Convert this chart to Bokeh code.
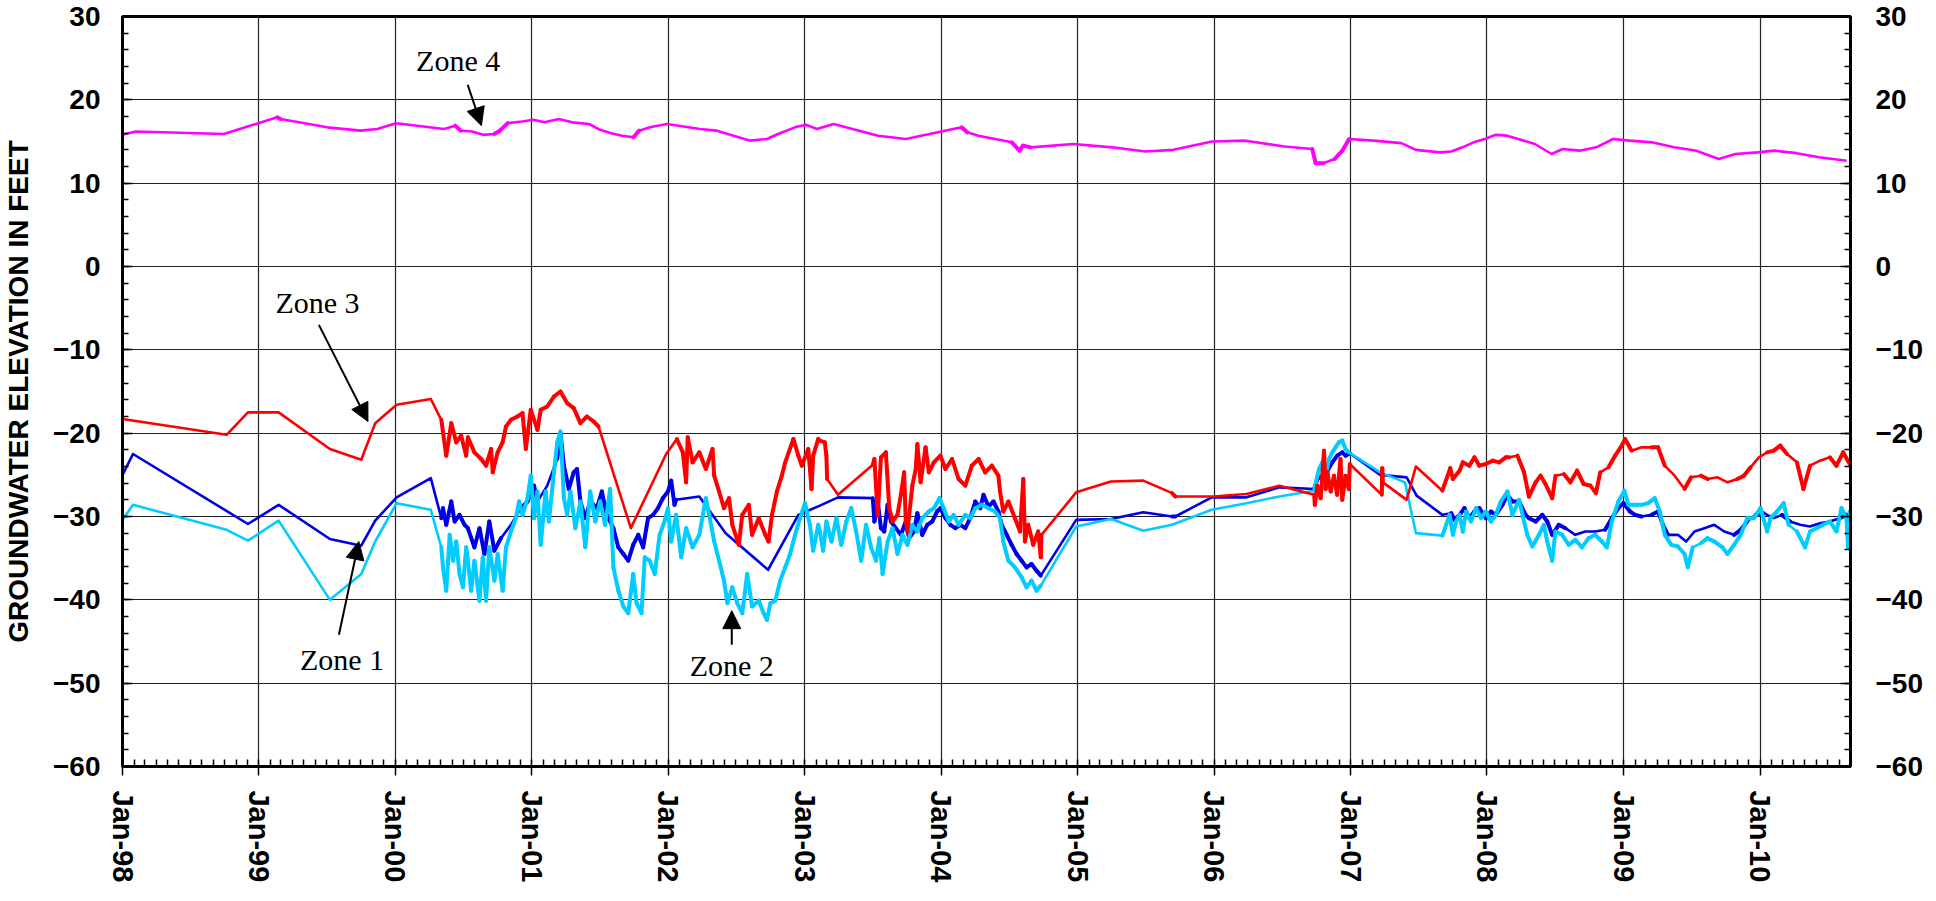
import math
from datetime import datetime
import pandas as pd
from bokeh.plotting import figure
from bokeh.models import (Range1d, FixedTicker, LinearAxis, DatetimeTickFormatter,
                          Label, Arrow, NormalHead)
from bokeh.embed import file_html
from bokeh.resources import INLINE

# ---- data: (decimal year, elevation in feet) ----
ZONE_4 = [(1998.0, 15.8), (1998.098, 16.2), (1998.742, 15.9), (1999.134, 17.9), (1999.158, 17.7),
          (1999.501, 16.7), (1999.745, 16.3), (1999.868, 16.5), (2000.006, 17.2), (2000.357, 16.5),
          (2000.439, 16.9), (2000.480, 16.3), (2000.561, 16.2), (2000.643, 15.8), (2000.724, 15.9),
          (2000.765, 16.3), (2000.822, 17.2), (2000.928, 17.4), (2001.010, 17.6), (2001.091, 17.3),
          (2001.197, 17.7), (2001.295, 17.3), (2001.418, 17.1), (2001.499, 16.4), (2001.581, 16.0),
          (2001.662, 15.7), (2001.744, 15.5), (2001.785, 16.3), (2001.866, 16.7), (2001.989, 17.1),
          (2002.111, 16.8), (2002.233, 16.5), (2002.356, 16.3), (2002.478, 15.7), (2002.600, 15.1),
          (2002.723, 15.3), (2002.804, 15.9), (2002.927, 16.7), (2003.008, 17.0), (2003.090, 16.5),
          (2003.212, 17.1), (2003.538, 15.7), (2003.742, 15.3), (2004.028, 16.3), (2004.150, 16.7),
          (2004.191, 16.1), (2004.273, 15.7), (2004.395, 15.3), (2004.517, 14.9), (2004.574, 13.9),
          (2004.599, 14.5), (2004.656, 14.3), (2004.966, 14.7), (2005.251, 14.3), (2005.496, 13.8),
          (2005.700, 14.0), (2005.985, 15.0), (2006.230, 15.1), (2006.515, 14.4), (2006.719, 14.1),
          (2006.744, 12.4), (2006.801, 12.4), (2006.883, 12.9), (2006.940, 13.9), (2006.989, 15.3),
          (2007.168, 15.1), (2007.372, 14.8), (2007.478, 14.0), (2007.657, 13.7), (2007.739, 13.8),
          (2007.820, 14.3), (2007.902, 14.9), (2007.984, 15.3), (2008.065, 15.8), (2008.147, 15.7),
          (2008.228, 15.3), (2008.350, 14.7), (2008.473, 13.5), (2008.554, 14.1), (2008.677, 13.9),
          (2008.799, 14.3), (2008.922, 15.3), (2009.044, 15.1), (2009.207, 14.9), (2009.370, 14.3),
          (2009.533, 13.9), (2009.696, 12.9), (2009.819, 13.5), (2009.982, 13.7), (2010.104, 13.9),
          (2010.268, 13.6), (2010.431, 13.1), (2010.635, 12.7)]

ZONE_3 = [(1998.0, -18.3), (1998.763, -20.2), (1998.920, -17.5), (1999.145, -17.5), (1999.521, -21.9),
          (1999.751, -23.2), (1999.853, -18.8), (2000.010, -16.6), (2000.260, -15.9), (2000.337, -18.4),
          (2000.373, -22.7), (2000.410, -18.8), (2000.446, -21.1), (2000.482, -20.3), (2000.519, -22.7),
          (2000.531, -20.5), (2000.579, -22.3), (2000.628, -23.1), (2000.664, -23.9), (2000.701, -21.9),
          (2000.713, -24.7), (2000.749, -22.3), (2000.785, -21.1), (2000.810, -19.2), (2000.846, -18.4),
          (2000.894, -18.0), (2000.931, -17.6), (2000.955, -21.9), (2000.991, -17.2), (2001.040, -19.6),
          (2001.064, -17.2), (2001.112, -16.8), (2001.161, -15.6), (2001.209, -15.0), (2001.258, -16.4),
          (2001.306, -17.0), (2001.355, -18.8), (2001.403, -18.0), (2001.452, -18.6), (2001.488, -19.2),
          (2001.725, -31.4), (2001.984, -22.5), (2002.062, -20.7), (2002.106, -22.3), (2002.130, -25.9),
          (2002.142, -20.5), (2002.178, -23.5), (2002.227, -22.3), (2002.275, -24.3), (2002.324, -21.9),
          (2002.336, -25.1), (2002.372, -27.0), (2002.408, -29.0), (2002.445, -27.8), (2002.469, -31.0),
          (2002.517, -33.4), (2002.542, -29.8), (2002.590, -28.6), (2002.614, -32.2), (2002.663, -30.2),
          (2002.711, -32.2), (2002.735, -33.0), (2002.760, -29.8), (2002.796, -27.0), (2002.832, -25.1),
          (2002.857, -23.5), (2002.917, -20.7), (2002.953, -22.7), (2002.978, -23.9), (2003.026, -21.9),
          (2003.050, -26.7), (2003.062, -22.7), (2003.099, -20.7), (2003.111, -20.9), (2003.147, -21.1),
          (2003.159, -22.7), (2003.164, -25.5), (2003.244, -27.4), (2003.499, -23.8), (2003.511, -23.1),
          (2003.535, -29.8), (2003.559, -22.9), (2003.595, -22.3), (2003.620, -29.0), (2003.644, -30.6),
          (2003.680, -29.8), (2003.705, -27.4), (2003.729, -24.7), (2003.741, -30.6), (2003.753, -31.8),
          (2003.789, -26.3), (2003.814, -24.3), (2003.826, -21.3), (2003.850, -25.9), (2003.886, -21.7),
          (2003.910, -24.7), (2003.947, -23.5), (2003.995, -22.7), (2004.032, -24.3), (2004.080, -23.1),
          (2004.128, -25.5), (2004.177, -26.3), (2004.225, -23.9), (2004.274, -23.1), (2004.322, -24.7),
          (2004.371, -23.9), (2004.419, -25.1), (2004.431, -27.0), (2004.455, -29.4), (2004.492, -28.2),
          (2004.540, -30.2), (2004.577, -31.8), (2004.601, -25.5), (2004.613, -33.0), (2004.637, -31.0),
          (2004.674, -33.4), (2004.710, -31.8), (2004.729, -34.9), (2004.734, -32.2), (2004.988, -27.1),
          (2005.243, -25.8), (2005.480, -25.7), (2005.691, -27.2), (2005.715, -27.6), (2005.994, -27.6),
          (2006.236, -27.3), (2006.478, -26.3), (2006.733, -27.4), (2006.738, -28.6), (2006.757, -26.3),
          (2006.781, -27.8), (2006.805, -22.1), (2006.817, -26.7), (2006.830, -24.7), (2006.854, -27.0),
          (2006.878, -25.1), (2006.902, -27.4), (2006.926, -23.1), (2006.939, -28.0), (2006.963, -25.1),
          (2006.987, -26.7), (2006.994, -23.7), (2007.229, -27.4), (2007.232, -24.2), (2007.237, -25.9),
          (2007.411, -28.0), (2007.479, -24.0), (2007.673, -26.9), (2007.731, -24.2), (2007.750, -25.5),
          (2007.799, -24.5), (2007.823, -23.5), (2007.871, -23.9), (2007.908, -22.9), (2007.944, -23.9),
          (2007.992, -23.7), (2008.041, -23.3), (2008.089, -23.5), (2008.138, -22.9), (2008.162, -22.9),
          (2008.223, -22.7), (2008.271, -24.7), (2008.307, -27.6), (2008.356, -25.9), (2008.392, -25.1),
          (2008.428, -26.1), (2008.477, -27.8), (2008.501, -25.1), (2008.562, -24.9), (2008.610, -25.9),
          (2008.659, -24.5), (2008.707, -26.1), (2008.756, -26.3), (2008.797, -27.2), (2008.828, -24.7),
          (2008.889, -24.1), (2008.937, -22.7), (2008.986, -21.5), (2009.010, -20.7), (2009.058, -22.1),
          (2009.131, -21.7), (2009.204, -21.7), (2009.252, -21.7), (2009.301, -23.9), (2009.373, -25.1),
          (2009.446, -26.7), (2009.494, -25.3), (2009.567, -25.1), (2009.615, -25.5), (2009.688, -25.3),
          (2009.761, -25.9), (2009.833, -25.5), (2009.882, -25.1), (2009.930, -24.1), (2009.991, -22.9),
          (2010.052, -22.3), (2010.100, -22.1), (2010.148, -21.5), (2010.197, -22.5), (2010.270, -23.5),
          (2010.318, -26.7), (2010.366, -23.9), (2010.439, -23.3), (2010.512, -22.9), (2010.560, -23.9),
          (2010.609, -22.3), (2010.657, -23.7)]

ZONE_1 = [(1998.0, -25.0), (1998.077, -22.5), (1998.920, -30.9), (1999.145, -28.6), (1999.521, -32.7),
          (1999.751, -33.5), (1999.853, -30.5), (2000.010, -27.7), (2000.260, -25.4), (2000.337, -30.2),
          (2000.349, -29.0), (2000.373, -31.0), (2000.410, -28.2), (2000.434, -30.6), (2000.470, -29.8),
          (2000.507, -31.0), (2000.531, -31.4), (2000.579, -33.7), (2000.616, -31.4), (2000.652, -34.5),
          (2000.688, -30.6), (2000.725, -34.1), (2000.773, -32.6), (2000.846, -31.0), (2000.919, -29.0),
          (2000.967, -28.2), (2001.015, -26.3), (2001.040, -28.2), (2001.112, -26.3), (2001.185, -23.1),
          (2001.209, -20.0), (2001.234, -23.9), (2001.270, -26.7), (2001.306, -24.7), (2001.330, -24.3),
          (2001.355, -28.2), (2001.391, -30.2), (2001.427, -28.2), (2001.476, -29.0), (2001.512, -27.0),
          (2001.548, -29.8), (2001.597, -31.4), (2001.633, -33.7), (2001.670, -34.5), (2001.706, -35.3),
          (2001.742, -33.4), (2001.779, -32.2), (2001.815, -33.7), (2001.851, -30.2), (2001.888, -29.8),
          (2001.924, -29.0), (2001.960, -27.8), (2001.997, -27.0), (2002.021, -25.7), (2002.045, -28.6),
          (2002.057, -28.0), (2002.227, -27.6), (2002.420, -32.0), (2002.731, -36.4), (2002.953, -29.8),
          (2003.111, -28.7), (2003.244, -27.7), (2003.499, -27.8), (2003.511, -30.6), (2003.535, -28.2),
          (2003.559, -31.4), (2003.583, -31.8), (2003.608, -28.6), (2003.632, -30.6), (2003.668, -31.4),
          (2003.705, -32.2), (2003.741, -30.6), (2003.765, -32.6), (2003.801, -31.8), (2003.826, -29.6),
          (2003.862, -32.2), (2003.898, -31.0), (2003.935, -30.6), (2003.971, -29.4), (2003.995, -29.0),
          (2004.032, -30.2), (2004.068, -31.0), (2004.104, -31.4), (2004.141, -31.0), (2004.177, -31.4),
          (2004.213, -30.2), (2004.250, -28.2), (2004.286, -29.0), (2004.310, -27.4), (2004.346, -28.8),
          (2004.383, -28.2), (2004.419, -29.4), (2004.443, -31.0), (2004.480, -32.2), (2004.516, -33.4),
          (2004.552, -34.5), (2004.589, -35.3), (2004.625, -36.1), (2004.661, -35.7), (2004.698, -36.5),
          (2004.729, -37.1), (2004.988, -30.4), (2005.243, -30.3), (2005.480, -29.5), (2005.691, -30.0),
          (2005.715, -30.0), (2005.982, -27.7), (2006.236, -27.7), (2006.478, -26.5), (2006.733, -26.7),
          (2006.757, -25.5), (2006.793, -25.1), (2006.830, -24.5), (2006.866, -23.5), (2006.902, -22.7),
          (2006.939, -22.3), (2006.963, -22.7), (2006.994, -22.4), (2007.217, -25.0), (2007.411, -25.3),
          (2007.484, -27.5), (2007.673, -29.8), (2007.738, -29.6), (2007.762, -30.4), (2007.799, -29.8),
          (2007.835, -29.0), (2007.871, -30.2), (2007.908, -29.4), (2007.944, -29.0), (2007.992, -30.2),
          (2008.029, -29.4), (2008.065, -29.8), (2008.113, -28.6), (2008.150, -27.4), (2008.186, -28.2),
          (2008.235, -28.2), (2008.283, -29.8), (2008.307, -30.2), (2008.356, -30.6), (2008.404, -29.8),
          (2008.441, -30.6), (2008.477, -32.2), (2008.525, -31.0), (2008.574, -31.4), (2008.646, -32.2),
          (2008.719, -31.8), (2008.792, -31.8), (2008.864, -31.6), (2008.913, -30.2), (2008.961, -29.0),
          (2008.998, -28.4), (2009.046, -29.4), (2009.083, -29.8), (2009.131, -30.0), (2009.204, -29.8),
          (2009.252, -29.4), (2009.288, -31.0), (2009.325, -32.2), (2009.397, -32.2), (2009.458, -33.0),
          (2009.519, -31.8), (2009.591, -31.4), (2009.664, -31.0), (2009.737, -31.8), (2009.809, -32.2),
          (2009.858, -31.6), (2009.906, -30.6), (2009.967, -29.8), (2010.027, -29.6), (2010.100, -30.2),
          (2010.161, -29.8), (2010.221, -30.6), (2010.294, -31.0), (2010.366, -31.2), (2010.439, -30.8),
          (2010.512, -30.6), (2010.584, -30.2), (2010.633, -29.8), (2010.657, -30.2)]

ZONE_2 = [(1998.0, -30.4), (1998.077, -28.6), (1998.763, -31.6), (1998.920, -32.9), (1999.145, -30.5),
          (1999.521, -40.0), (1999.751, -36.9), (1999.853, -33.0), (2000.010, -28.4), (2000.260, -29.2),
          (2000.337, -33.7), (2000.349, -36.1), (2000.373, -38.9), (2000.398, -32.2), (2000.422, -35.3),
          (2000.446, -33.0), (2000.470, -36.9), (2000.495, -38.5), (2000.519, -33.7), (2000.531, -35.3),
          (2000.555, -38.9), (2000.579, -35.3), (2000.616, -40.1), (2000.640, -34.9), (2000.664, -40.1),
          (2000.688, -33.7), (2000.725, -37.7), (2000.749, -34.5), (2000.785, -38.9), (2000.810, -33.7),
          (2000.846, -31.8), (2000.882, -30.2), (2000.906, -28.2), (2000.931, -29.8), (2000.967, -27.8),
          (2000.991, -25.1), (2001.015, -30.2), (2001.040, -27.0), (2001.064, -33.4), (2001.100, -27.0),
          (2001.124, -30.6), (2001.161, -24.7), (2001.185, -21.1), (2001.209, -19.8), (2001.234, -27.8),
          (2001.258, -29.8), (2001.282, -27.0), (2001.318, -31.4), (2001.355, -28.2), (2001.391, -33.7),
          (2001.427, -27.0), (2001.464, -30.6), (2001.500, -28.2), (2001.536, -31.0), (2001.573, -26.7),
          (2001.597, -36.1), (2001.633, -38.9), (2001.670, -40.8), (2001.706, -41.6), (2001.742, -36.9),
          (2001.767, -40.4), (2001.803, -41.6), (2001.827, -34.9), (2001.863, -35.3), (2001.900, -36.9),
          (2001.936, -32.2), (2001.972, -30.6), (2001.997, -29.0), (2002.021, -33.0), (2002.057, -29.8),
          (2002.094, -34.9), (2002.130, -31.4), (2002.178, -33.7), (2002.227, -32.2), (2002.275, -27.8),
          (2002.299, -29.8), (2002.336, -33.0), (2002.372, -35.3), (2002.408, -37.7), (2002.433, -40.4),
          (2002.469, -38.5), (2002.505, -40.4), (2002.542, -41.6), (2002.578, -36.9), (2002.614, -40.8),
          (2002.663, -40.1), (2002.699, -41.6), (2002.723, -42.4), (2002.748, -40.4), (2002.784, -40.1),
          (2002.820, -37.7), (2002.857, -36.1), (2002.893, -34.5), (2002.929, -32.2), (2002.966, -30.2),
          (2003.002, -28.4), (2003.038, -31.0), (2003.062, -34.1), (2003.099, -31.0), (2003.111, -31.8),
          (2003.135, -34.1), (2003.159, -30.6), (2003.196, -33.0), (2003.232, -30.2), (2003.268, -33.4),
          (2003.305, -30.6), (2003.341, -29.0), (2003.377, -31.8), (2003.414, -35.3), (2003.450, -31.0),
          (2003.486, -33.7), (2003.523, -35.3), (2003.547, -32.6), (2003.571, -36.9), (2003.608, -33.0),
          (2003.644, -31.4), (2003.680, -34.5), (2003.717, -32.2), (2003.753, -33.4), (2003.789, -31.0),
          (2003.826, -31.8), (2003.862, -30.2), (2003.910, -29.4), (2003.947, -29.0), (2003.988, -27.8),
          (2004.019, -29.0), (2004.056, -30.6), (2004.092, -29.8), (2004.128, -31.0), (2004.177, -29.8),
          (2004.213, -30.2), (2004.250, -29.0), (2004.298, -28.6), (2004.346, -29.0), (2004.395, -29.4),
          (2004.431, -30.2), (2004.455, -33.0), (2004.492, -35.3), (2004.540, -36.1), (2004.589, -37.3),
          (2004.625, -38.5), (2004.661, -37.7), (2004.698, -38.9), (2004.729, -38.3), (2004.988, -31.2),
          (2005.243, -30.3), (2005.480, -31.7), (2005.691, -31.0), (2005.982, -29.2), (2006.236, -28.4),
          (2006.478, -27.6), (2006.733, -26.9), (2006.745, -25.9), (2006.769, -24.3), (2006.793, -23.5),
          (2006.817, -25.1), (2006.842, -23.1), (2006.866, -22.3), (2006.890, -21.7), (2006.914, -21.1),
          (2006.939, -20.9), (2006.963, -21.9), (2006.987, -22.3), (2007.217, -24.7), (2007.399, -25.9),
          (2007.479, -32.0), (2007.673, -32.3), (2007.726, -29.8), (2007.750, -32.2), (2007.774, -30.6),
          (2007.799, -29.8), (2007.823, -31.8), (2007.847, -29.4), (2007.883, -30.6), (2007.920, -29.0),
          (2007.956, -30.2), (2007.992, -29.4), (2008.029, -30.6), (2008.065, -29.8), (2008.101, -28.2),
          (2008.150, -27.0), (2008.186, -29.8), (2008.235, -28.0), (2008.271, -30.6), (2008.295, -32.2),
          (2008.332, -33.6), (2008.380, -32.2), (2008.416, -31.0), (2008.441, -33.0), (2008.477, -35.3),
          (2008.501, -31.8), (2008.550, -32.2), (2008.598, -33.4), (2008.646, -32.8), (2008.695, -33.7),
          (2008.743, -32.6), (2008.792, -32.2), (2008.840, -33.0), (2008.877, -33.7), (2008.913, -30.6),
          (2008.961, -28.2), (2009.005, -26.9), (2009.034, -28.6), (2009.083, -28.6), (2009.131, -28.6),
          (2009.179, -28.4), (2009.228, -27.8), (2009.264, -29.4), (2009.301, -32.2), (2009.349, -33.4),
          (2009.397, -33.6), (2009.446, -34.5), (2009.470, -36.1), (2009.506, -33.7), (2009.567, -33.2),
          (2009.615, -32.6), (2009.664, -33.0), (2009.724, -33.7), (2009.761, -34.5), (2009.809, -33.4),
          (2009.858, -32.2), (2009.906, -30.2), (2009.955, -30.2), (2010.003, -29.0), (2010.052, -31.8),
          (2010.076, -30.2), (2010.124, -29.4), (2010.173, -28.4), (2010.209, -31.0), (2010.270, -31.8),
          (2010.330, -33.7), (2010.366, -31.8), (2010.415, -31.4), (2010.463, -31.0), (2010.512, -30.6),
          (2010.560, -31.8), (2010.597, -29.0), (2010.633, -30.2), (2010.645, -33.7), (2010.657, -29.4)]

Y_TICKS = [-60, -50, -40, -30, -20, -10, 0, 10, 20, 30]
Y_LABEL = "GROUNDWATER ELEVATION IN FEET"


def to_dt(y):
    yr = int(y)
    a = datetime(yr, 1, 1)
    b = datetime(yr + 1, 1, 1)
    return a + (b - a) * (y - yr)


def ms(d):
    return pd.Timestamp(d).value / 1e6


x_start = datetime(1998, 1, 1)
x_end = datetime(2010, 8, 31)

p = figure(width=1925, height=885, x_axis_type="datetime",
           x_range=Range1d(ms(x_start), ms(x_end)), y_range=Range1d(-60, 30),
           output_backend="svg", toolbar_location=None,
           min_border_left=113, min_border_right=70, min_border_top=16, min_border_bottom=117)
p.background_fill_color = "white"
p.border_fill_color = "white"
p.outline_line_color = "black"
p.outline_line_width = 3

year_ticks = [ms(datetime(y, 1, 1)) for y in range(1998, 2011)]
month_ticks = [ms(d) for d in pd.date_range("1998-01-01", "2010-08-01", freq="MS")]

FONT = "Liberation Sans"
FMT = "%b-%y"

xa = p.xaxis[0]
xa.ticker = FixedTicker(ticks=year_ticks, minor_ticks=month_ticks)
xa.formatter = DatetimeTickFormatter(years=FMT, months=FMT, days=FMT, hours=FMT, minutes=FMT,
                                     seconds=FMT, milliseconds=FMT, microseconds=FMT,
                                     hourmin=FMT, minsec=FMT)
xa.major_label_orientation = -math.pi / 2
xa.major_label_text_font = FONT
xa.major_label_text_font_style = "bold"
xa.major_label_text_font_size = "29px"
xa.major_label_text_color = "black"
xa.major_label_standoff = 15
xa.axis_line_width = 3
xa.axis_line_color = "black"
xa.major_tick_in = 0
xa.major_tick_out = 9
xa.major_tick_line_width = 1.5
xa.major_tick_line_color = "black"
xa.minor_tick_in = 7
xa.minor_tick_out = 0
xa.minor_tick_line_width = 1.5
xa.minor_tick_line_color = "black"

ya = p.yaxis[0]
ya.ticker = FixedTicker(ticks=Y_TICKS, minor_ticks=list(range(-60, 31, 2)))
ya.axis_label = Y_LABEL
ya.axis_label_text_font = FONT
ya.axis_label_text_font_style = "bold"
ya.axis_label_text_font_size = "28px"
ya.axis_label_text_color = "black"
ya.axis_label_standoff = 16

ra = LinearAxis(ticker=FixedTicker(ticks=Y_TICKS, minor_ticks=list(range(-60, 31, 2))))
p.add_layout(ra, "right")

for ax, sto in ((ya, 22), (ra, 25)):
    ax.major_label_text_font = FONT
    ax.major_label_text_font_style = "bold"
    ax.major_label_text_font_size = "28px"
    ax.major_label_text_color = "black"
    ax.major_label_standoff = sto
    ax.axis_line_width = 3
    ax.axis_line_color = "black"
    ax.major_tick_in = 10
    ax.major_tick_out = 0
    ax.major_tick_line_width = 1.5
    ax.major_tick_line_color = "black"
    ax.minor_tick_in = 6
    ax.minor_tick_out = 0
    ax.minor_tick_line_width = 1.5
    ax.minor_tick_line_color = "black"

p.xgrid.grid_line_color = "#222222"
p.xgrid.grid_line_width = 1.2
p.ygrid.grid_line_color = "#222222"
p.ygrid.grid_line_width = 1.2

series = [(ZONE_1, "#0000E6"), (ZONE_2, "#00CCFF"), (ZONE_3, "#FF0000"), (ZONE_4, "#FF00FF")]
for data, col in series:
    xs = [to_dt(t) for t, _ in data]
    ys = [v for _, v in data]
    p.line(xs, ys, line_color=col, line_width=2.6, line_join="round")
    # logger (dense) stretches are drawn heavier, as in the reference
    seg_x, seg_y = [], []
    for i in range(1, len(data)):
        if data[i][0] - data[i - 1][0] < 0.06:
            seg_x.append([xs[i - 1], xs[i]])
            seg_y.append([ys[i - 1], ys[i]])
    p.multi_line(seg_x, seg_y, line_color=col, line_width=4, line_join="round", line_cap="round")

# annotations: (label, text x, text y, arrow start x, y, arrow end x, y)
ANNOT = [
    ("Zone 4", 2000.46, 24.7, 2000.53, 21.8, 2000.63, 16.9),
    ("Zone 3", 1999.43, -4.3, 1999.44, -7.0, 1999.80, -18.6),
    ("Zone 1", 1999.61, -47.2, 1999.587, -44.2, 1999.733, -33.0),
    ("Zone 2", 2002.465, -47.9, 2002.465, -45.4, 2002.465, -41.3),
]
for name, tx, ty, sx, sy, ex, ey in ANNOT:
    p.add_layout(Label(x=ms(to_dt(tx)), y=ty, text=name, text_font="Liberation Serif",
                       text_font_size="30px", text_align="center", text_baseline="middle",
                       text_color="black"))
    p.add_layout(Arrow(end=NormalHead(size=18, fill_color="black", line_color="black"),
                       x_start=ms(to_dt(sx)), y_start=sy, x_end=ms(to_dt(ex)), y_end=ey,
                       line_color="black", line_width=2))

open("out.html", "w").write(file_html(p, INLINE))
